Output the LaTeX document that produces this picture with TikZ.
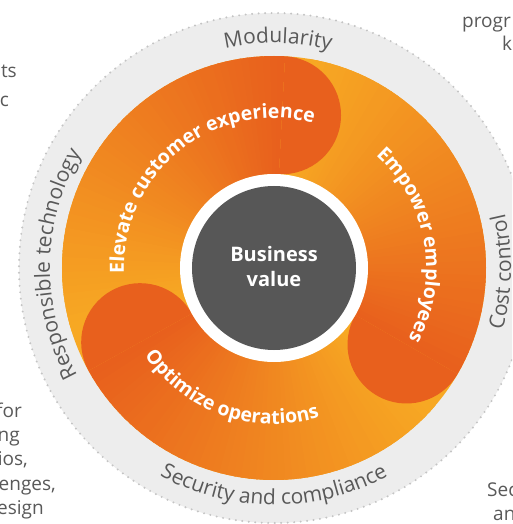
\documentclass[tikz,border=0pt]{standalone}
\usepackage{fontspec}
\setmainfont{Open Sans}
\usetikzlibrary{decorations.text}
\definecolor{ringgrey}{HTML}{EDEDED}
\definecolor{dotgrey}{HTML}{C4C4C4}
\definecolor{txtgrey}{HTML}{595959}
\definecolor{orlight}{HTML}{F7A823}
\definecolor{ordark}{HTML}{E8601D}
\definecolor{coregrey}{HTML}{575757}
\newcommand\ringlabel[4]{%
  \path[decorate, decoration={text along path, text align=center,
    text={|\fontsize{21}{25}\selectfont\color{txtgrey}|#4}}]
    (#1:#3pt) arc[start angle=#1, end angle=#2, radius=#3pt];}
\newcommand\bandlabel[4]{%
  \path[decorate, decoration={text along path, text align=center,
    text={|\bfseries\fontsize{19.5}{23}\selectfont\color{white}|#4}}]
    (#1:#3pt) arc[start angle=#1, end angle=#2, radius=#3pt];}
\newcommand\bandfill[1]{%
  \foreach \k in {0,...,54} {
    \pgfmathsetmacro\aa{#1+2*\k}
    \pgfmathsetmacro\bb{#1+2*\k+2.6}
    \pgfmathtruncatemacro\pp{round(100*\k/54)}
    \colorlet{wedgecol}{orlight!\pp!ordark}
    \fill[wedgecol] (\aa:94pt) arc[start angle=\aa, end angle=\bb, radius=94pt]
      -- (\bb:212pt) arc[start angle=\bb, end angle=\aa, radius=212pt] -- cycle;
  }}
\newcommand\bandcap[1]{%
  \pgfmathsetmacro\ee{#1-180}
  \fill[ordark] (#1:212pt) arc[start angle=#1, end angle=\ee, radius=59pt] -- cycle;}
\begin{document}
\begin{tikzpicture}[x=1pt,y=1pt,
  fragment/.style={text=txtgrey, font=\fontsize{19}{23}\selectfont, inner sep=0pt}]
\useasboundingbox (-274,-256) rectangle (238,268);
\clip (-274,-256) rectangle (238,268);
\fill[white] (-274,-256) rectangle (238,268);
% outer ring
\fill[ringgrey] (0,0) circle (255pt);
\draw[dotgrey, line width=2.2pt, line cap=round, dash pattern=on 0pt off 6.5pt] (0,0) circle (255pt);
% orange disk
\fill[orlight] (0,0) circle (212pt);
\bandfill{87}
\bandfill{209}
\bandfill{330}
\bandcap{87}
\bandcap{209}
\bandcap{330}
% centre
\fill[white] (0,0) circle (94pt);
\node[circle, fill=coregrey, minimum size=164pt, inner sep=0pt] (core) at (0,0) {};
\node[align=center, text=white, font=\bfseries\fontsize{20}{25}\selectfont] (corelabel) at (0,1) {Business\\value};
% band labels
\bandlabel{198}{59}{150}{Elevate customer experience}
\bandlabel{60}{-40}{152}{Empower employees}
\bandlabel{200}{301}{156}{Optimize operations}
% ring labels
\ringlabel{140}{38}{225}{Modularity}
\ringlabel{245}{113}{224}{Responsible technology}
\ringlabel{210}{330}{237}{Security and compliance}
\ringlabel{-50}{48}{237}{Cost control}
% fragments of surrounding text
\node[fragment, anchor=base east] (f1) at (-257,190) {ts};
\node[fragment, anchor=base east] (f2) at (-265,161) {c};
\node[fragment, anchor=base west] (f3) at (188,240) {progr};
\node[fragment, anchor=base west] (f4) at (228,217) {k};
\node[fragment, anchor=base east] (f5) at (-252,-149) {for};
\node[fragment, anchor=base east] (f6) at (-254,-173) {ng};
\node[fragment, anchor=base east] (f7) at (-246,-197) {ios,};
\node[fragment, anchor=base east] (f8) at (-218,-222) {enges,};
\node[fragment, anchor=base east] (f9) at (-230,-246) {esign};
\node[fragment, anchor=base west] (f10) at (213,-228) {Sec};
\node[fragment, anchor=base west] (f11) at (219,-252) {an};
\end{tikzpicture}
\end{document}
